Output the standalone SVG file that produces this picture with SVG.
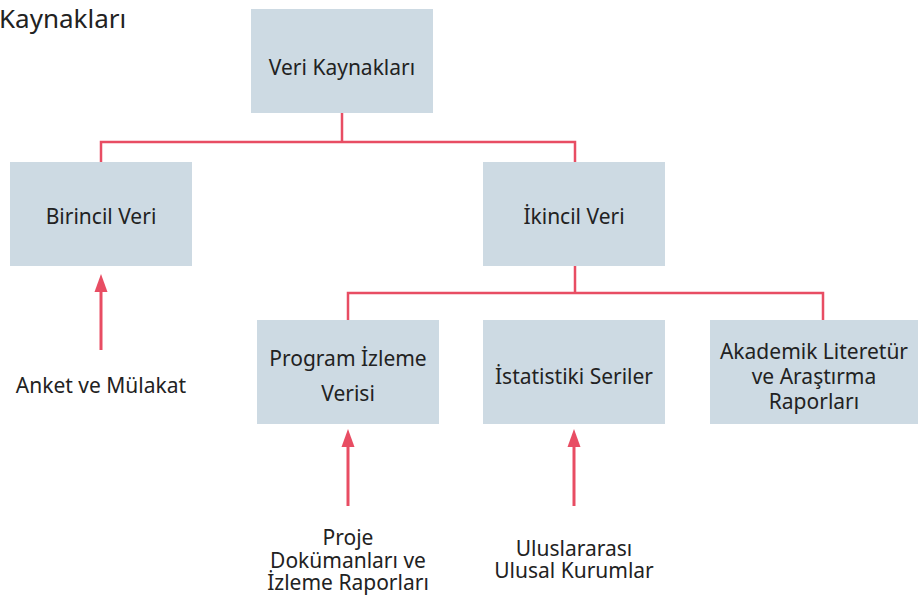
<svg xmlns="http://www.w3.org/2000/svg" width="918" height="595" viewBox="0 0 918 595">
<defs>
<style>
.box{fill:#cddae3}
.t{font-family:"Noto Sans","Open Sans",sans-serif;font-size:21px;fill:#222;text-anchor:middle}
.ln{fill:none;stroke:#e84d63;stroke-width:2.5}
.ar{fill:none;stroke:#e84d63;stroke-width:3}
</style>
</defs>
<rect width="918" height="595" fill="#fff"/>
<text x="-1" y="28" style="font-family:'Noto Sans','Open Sans',sans-serif;font-size:26px;fill:#222">Kaynakları</text>
<g id="connectors">
<path class="ln" d="M342,113 V142 M101,162 V142 H575 V162"/>
<path class="ln" d="M575,266 V293 M348,320 V293 H823 V320"/>
<path class="ar" d="M101,350 V285" />
<path d="M94.5,292 L101,274 L107.5,292 Z" fill="#e84d63"/>
<path class="ar" d="M348,506 V440" />
<path d="M341.5,447 L348,429 L354.5,447 Z" fill="#e84d63"/>
<path class="ar" d="M574,506 V440" />
<path d="M567.5,447 L574,429 L580.5,447 Z" fill="#e84d63"/>
</g>
<g id="veri-kaynaklari"><rect class="box" x="251" y="9" width="182" height="104"/><text class="t" x="342" y="75">Veri Kaynakları</text></g>
<g id="birincil-veri"><rect class="box" x="10" y="162" width="182" height="104"/><text class="t" x="101" y="224">Birincil Veri</text></g>
<g id="ikincil-veri"><rect class="box" x="483" y="162" width="182" height="104"/><text class="t" x="574" y="224">İkincil Veri</text></g>
<g id="program-izleme"><rect class="box" x="257" y="320" width="182" height="104"/><text class="t" x="348" y="366">Program İzleme</text><text class="t" x="348" y="401">Verisi</text></g>
<g id="istatistiki"><rect class="box" x="483" y="320" width="182" height="104"/><text class="t" x="574" y="384">İstatistiki Seriler</text></g>
<g id="akademik"><rect class="box" x="710" y="320" width="208" height="104"/><text class="t" x="814" y="359">Akademik Literetür</text><text class="t" x="814" y="384">ve Araştırma</text><text class="t" x="814" y="409">Raporları</text></g>
<g id="anket"><text class="t" x="101" y="393">Anket ve Mülakat</text></g>
<g id="proje"><text class="t" x="348" y="545">Proje</text><text class="t" x="348" y="568">Dokümanları ve</text><text class="t" x="348" y="590">İzleme Raporları</text></g>
<g id="uluslararasi"><text class="t" x="574" y="556">Uluslararası</text><text class="t" x="574" y="578">Ulusal Kurumlar</text></g>
</svg>
